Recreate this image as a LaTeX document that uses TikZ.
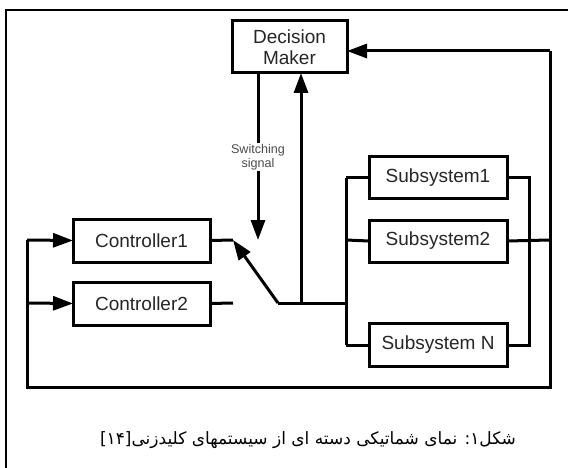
\documentclass[tikz,border=0pt]{standalone}
\usepackage{fontspec}
\setmainfont{Liberation Sans}
\newfontfamily\persianfont[Script=Arabic]{DejaVu Sans}
\TeXXeTstate=1
\usepackage{tikz}
\usetikzlibrary{arrows.meta, calc, positioning}
\colorlet{diag-text}{black!85}
\colorlet{diag-label}{black!70}
\tikzset{%
  every path/.style={line width=3pt},
    edge/.style={%
        ->,
        >={Triangle[length=20pt, width=14pt]},
    },
    block/.style={%
        rectangle,
        draw=black, line width=3pt,
        fill=white,
        inner sep=0pt, outer sep=0pt,
        text=diag-text,
        font=\fontsize{19}{21}\selectfont,
        align=center,
        text centered,
    },
    ctrlbox/.style={%
        block,
        minimum width=137pt,
        minimum height=43pt,
    },
    subbox/.style={%
        block,
        minimum width=138pt,
        minimum height=42pt,
    },
    siglabel/.style={%
        fill=white,
        inner sep=1pt,
        text=diag-label,
        font=\fontsize{12.6}{13.5}\selectfont,
        align=center,
    },
    frame/.style={%
      line width=2pt,
    }
}

\begin{document}
\begin{tikzpicture}[x=1pt, y=-1pt]
  % \draw[help lines] (0, 0) grid (568, 468);
  \useasboundingbox (0, 0) rectangle (568, 468);
  \draw[frame] (6, 468) -- (6, 10) -- (568, 10);

  \coordinate (fb_top) at (550, 51);
  \coordinate (fb_bot) at (550, 387);
  \coordinate (loop_bot) at (27, 387);
  \coordinate (loop_c1) at (27, 240);
  \coordinate (loop_c2) at (27, 303);
  \coordinate (c1_out) at (233, 240);
  \coordinate (c2_out) at (233, 303);
  \coordinate (pivot) at (278, 303);
  \coordinate (tap) at (301, 303);
  \coordinate (sw_tip) at (258, 240);
  \coordinate (bus_in) at (346, 303);
  \coordinate (bus_l1) at (346, 178);
  \coordinate (bus_l2) at (346, 240);
  \coordinate (bus_ln) at (346, 345);
  \coordinate (bus_r1) at (529, 178);
  \coordinate (bus_rn) at (529, 345);
  \coordinate (sub_out) at (550, 240);

  \node [block, minimum width=115pt, minimum height=52pt] at (289.5, 47) (dm) {Decision\\Maker};

  \node [ctrlbox] at (141.5, 240.5) (ctrl1) {Controller1};
  \node [ctrlbox, below=20pt of ctrl1] (ctrl2) {Controller2};

  \node [subbox] at (438, 178) (sub1) {Subsystem1};
  \node [subbox, below=21pt of sub1] (sub2) {Subsystem2};
  \node [subbox, minimum height=43pt] at (438, 345) (subn) {Subsystem N};

  \draw[edge] (dm.south -| sw_tip) -- (sw_tip);
  \node [siglabel] at (258, 157) (sw_lbl) {Switching\\signal};

  \draw (ctrl1.east) -- (c1_out);
  \draw (ctrl2.east) -- (c2_out);
  \draw[edge] (pivot) -- (c1_out);
  \draw (pivot) -- (bus_in);
  \draw[edge] (tap) -- (tap |- dm.south);

  \draw (bus_l1) -- (bus_ln);
  \draw (bus_l1) -- (sub1.west);
  \draw (bus_l2) -- (sub2.west);
  \draw (bus_ln) -- (subn.west);
  \draw (sub1.east) -- (bus_r1) -- (bus_rn) -- (subn.east);
  \draw (sub2.east) -- (sub_out);

  \draw (loop_c1) -- (loop_bot) -- (fb_bot) -- (fb_top);
  \draw[edge] (fb_top) -- (fb_top -| dm.east);
  \draw[edge] (loop_c1) -- (ctrl1.west);
  \draw[edge] (loop_c2) -- (ctrl2.west);

  \node [text=black, font=\persianfont\fontsize{17}{20}\selectfont] at (308, 440) (caption)
    {\beginR شکل۱: نمای شماتیکی دسته ای از سیستمهای کلیدزنی\beginL[۱۴]\endL\endR};
\end{tikzpicture}
\end{document}
